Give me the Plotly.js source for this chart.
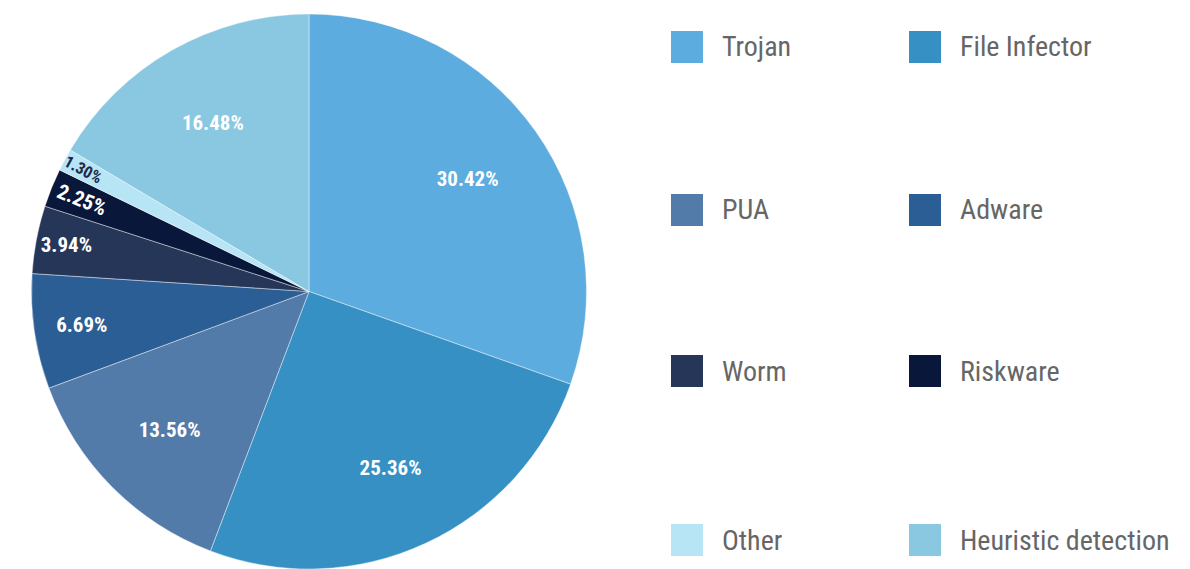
<!DOCTYPE html>
<html><head><meta charset="utf-8">
<script src="https://cdn.plot.ly/plotly-3.0.1.min.js"></script>
<style>body{margin:0;background:#fff}#c{width:1190px;height:569px}</style>
</head><body><div id="c"></div>
<script>
const categories = ["Trojan","File Infector","PUA","Adware","Worm","Riskware","Other","Heuristic detection"];
const shares = [30.42,25.36,13.56,6.69,3.94,2.25,1.30,16.48];
const colors = ["#5CACDF","#3790C4","#527BA9","#2B5E95","#263659","#09183A","#B8E5F5","#8AC8E2"];
const labelColors = ["#fff","#fff","#fff","#fff","#fff","#fff","#1B2A48","#fff"];
const legendOrder = ["Trojan","File Infector","PUA","Adware","Worm","Riskware","Other","Heuristic detection"];

const FONT = '"Roboto Condensed","Liberation Sans Narrow","DejaVu Sans Condensed",sans-serif';
const W = 1190, H = 569, T = 14;
const PH = H - T;
const rowY = [47, 210, 371, 540];
const colX = [671, 909];
const sq = 32;
const shapes = [], annotations = [];
legendOrder.forEach((name, i) => {
  const r = Math.floor(i/2), c = i%2;
  const idx = categories.indexOf(name);
  const cy = rowY[r], x0 = colX[c];
  shapes.push({type:'rect', xref:'paper', yref:'paper',
    x0: x0/W, x1:(x0+sq)/W, y0:(H-(cy+sq/2))/PH, y1:(H-(cy-sq/2))/PH,
    fillcolor: colors[idx], line:{width:0}});
  annotations.push({xref:'paper', yref:'paper', x:(x0+49)/W, y:(H-cy)/PH,
    xanchor:'left', yanchor:'middle', showarrow:false, text:name,
    font:{family:FONT, size:28, color:'#666666', weight:400}});
});

const dom = {x:[31/W, 587/W], y:[0,1]};
const data = [
 {type:'pie', labels:categories, values:shares, sort:false, direction:'clockwise', rotation:0,
  marker:{colors:colors, line:{color:'rgba(255,255,255,0.6)', width:0.7}},
  textinfo:'none', hoverinfo:'skip', showlegend:false, domain:dom},
 {type:'pie', labels:categories, values:shares, sort:false, direction:'clockwise', rotation:0, hole:0.4,
  marker:{colors:categories.map(()=> 'rgba(0,0,0,0)'), line:{width:0}},
  texttemplate:'%{value:.2f}%', textposition:'inside', textorientation:'auto',
  insidetextfont:{family:FONT, size:21, color:labelColors, weight:'bold'},
  hoverinfo:'label+percent', showlegend:false, domain:dom}
];
const layout = {width:W, height:H, margin:{l:0,r:0,t:T,b:0}, paper_bgcolor:'#fff',
  showlegend:false, shapes:shapes, annotations:annotations};
Plotly.newPlot('c', data, layout, {displayModeBar:false, staticPlot:true});
</script></body></html>
